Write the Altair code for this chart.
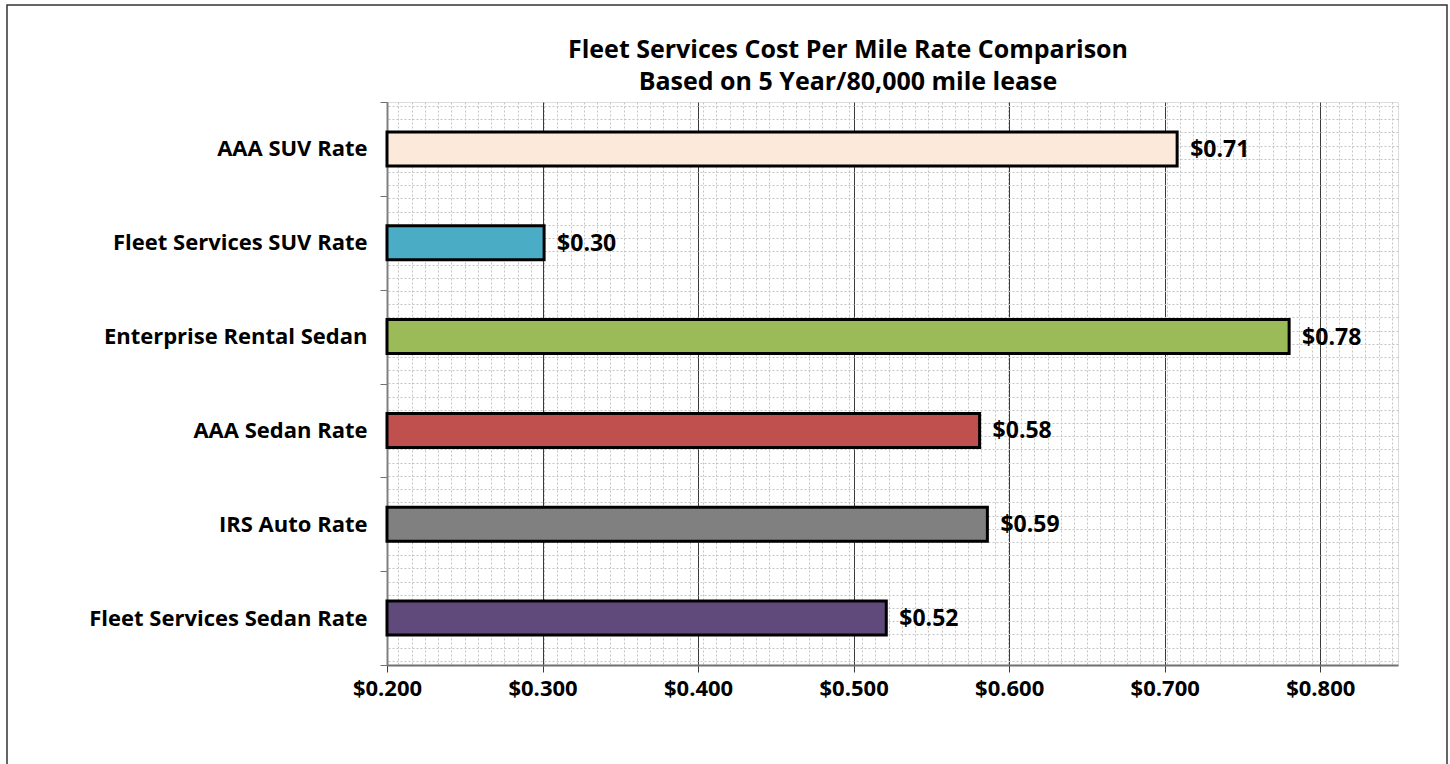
import altair as alt
import pandas as pd

# ---- data ----
categories = [
    "AAA SUV Rate",
    "Fleet Services SUV Rate",
    "Enterprise Rental Sedan",
    "AAA Sedan Rate",
    "IRS Auto Rate",
    "Fleet Services Sedan Rate",
]
rates = [0.708, 0.301, 0.780, 0.581, 0.586, 0.521]
bar_colors = ["#FDE9D9", "#4BACC6", "#9BBB59", "#C0504D", "#808080", "#604A7B"]
x_ticks = [0.2, 0.3, 0.4, 0.5, 0.6, 0.7, 0.8]
title_line1 = ["Fleet Services Cost Per Mile Rate Comparison"]
title_line2 = ["Based on 5 Year/80,000 mile lease"]

FONT = "Open Sans"

df = pd.DataFrame({"category": categories, "rate": rates, "color": bar_colors})

# background pattern grid (decorative, like the chart's patterned plot-area fill)
minor_v = [0.868 + k for k in range(76)]
minor_h = [0.303 + k for k in range(43)]
grid_df = pd.DataFrame({"gx": [0.0], "gy": [0.0]})

minor = alt.Chart(grid_df).mark_point(opacity=0).encode(
    x=alt.X("gx:Q", scale=alt.Scale(domain=[0, 76.33], nice=False, zero=False),
            axis=alt.Axis(orient="top", values=minor_v, labels=False, ticks=False,
                          domain=False, title=None, grid=True, gridColor="#c4c4c4",
                          gridDash=[2, 2], gridWidth=1)),
    y=alt.Y("gy:Q", scale=alt.Scale(domain=[0, 42.62], nice=False, zero=False, reverse=True),
            axis=alt.Axis(orient="right", values=minor_h, labels=False, ticks=False,
                          domain=False, title=None, grid=True, gridColor="#c4c4c4",
                          gridDash=[2, 2], gridWidth=1)),
)

x_enc = alt.X(
    "rate:Q",
    scale=alt.Scale(domain=[0.2, 0.85], nice=False, zero=False, clamp=False),
    axis=alt.Axis(orient="bottom", values=x_ticks, format="$.3f", title=None,
                  grid=True, gridColor="#3a3a3a", gridWidth=1,
                  tickSize=7, tickColor="#3a3a3a", tickWidth=1,
                  domainColor="#707070", domainWidth=2, labelFlush=False,
                  labelFont=FONT, labelFontSize=22, labelFontWeight="bold",
                  labelColor="#000000", labelPadding=6),
)
y_enc = alt.Y(
    "category:N", sort=categories,
    scale=alt.Scale(paddingInner=0, paddingOuter=0),
    axis=alt.Axis(orient="left", title=None, grid=False, tickBand="extent",
                  tickSize=7, tickColor="#707070", tickWidth=1,
                  domainColor="#808080", domainWidth=2, labelLimit=400,
                  labelFont=FONT, labelFontSize=22, labelFontWeight="bold",
                  labelColor="#000000", labelPadding=13),
)

bars = alt.Chart(df).mark_bar(size=34, stroke="#000000", strokeWidth=3).encode(
    x=x_enc,
    x2=alt.datum(0.2),
    y=y_enc,
    color=alt.Color("color:N", scale=None),
)

labels = alt.Chart(df).mark_text(
    align="left", baseline="middle", dx=13, dy=1,
    font=FONT, fontSize=23, fontWeight="bold", color="#000000",
).encode(
    x="rate:Q",
    y=alt.Y("category:N", sort=categories),
    text=alt.Text("rate:Q", format="$.2f"),
)

title1 = alt.Chart(pd.DataFrame({"t": title_line1})).mark_text(
    align="center", baseline="alphabetic",
    font=FONT, fontSize=25, fontWeight="bold", color="#000000",
).encode(x=alt.value(461), y=alt.value(-44), text="t:N")

title2 = alt.Chart(pd.DataFrame({"t": title_line2})).mark_text(
    align="center", baseline="alphabetic",
    font=FONT, fontSize=25, fontWeight="bold", color="#000000",
).encode(x=alt.value(461), y=alt.value(-12), text="t:N")

frame = alt.Chart(pd.DataFrame({"f": [0]})).mark_rect(
    fill=None, stroke="#333333", strokeWidth=1.5
).encode(
    x=alt.value(-380), x2=alt.value(1060),
    y=alt.value(-97), y2=alt.value(720),
)

main = alt.layer(bars, labels, title1, title2, frame)

chart = alt.layer(minor, main).resolve_scale(
    x="independent", y="independent"
).properties(
    width=1011,
    height=563,
    padding={"left": 387, "top": 102, "right": 52, "bottom": 99},
    autosize=alt.AutoSizeParams(type="none"),
).configure_view(
    stroke="#808080", strokeWidth=2
).configure(background="#ffffff")

chart.save("out.html", embed_options={"renderer": "svg", "actions": False})
